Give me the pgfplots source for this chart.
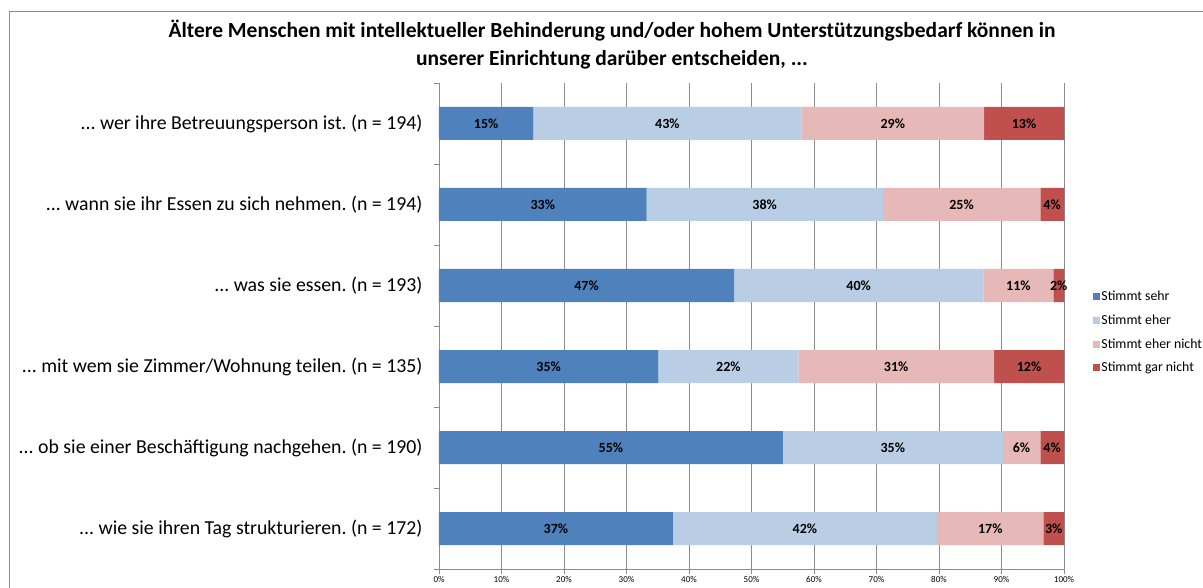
\documentclass[border=0pt]{standalone}
\usepackage{pgfplots}
\pgfplotsset{compat=1.18}
\usepackage{pgfplotstable}
\usepackage{fontspec}
\setmainfont{Carlito}
\frenchspacing
\newcommand\ddd{...}
\definecolor{cA}{HTML}{4F81BD}
\definecolor{cB}{HTML}{B9CDE5}
\definecolor{cC}{HTML}{E6B9B8}
\definecolor{cD}{HTML}{C0504D}
\definecolor{gridc}{HTML}{8C8C8C}
\pgfplotstableread{
y a b c d la lb lc ld
0 15.1 42.9 29.2 12.8 15 43 29 13
1 33.2 37.8 25.2 3.8 33 38 25 4
2 47.2 39.9 11.2 1.7 47 40 11 2
3 35.1 22.4 31.3 11.2 35 22 31 12
4 55.0 35.2 6.0 3.8 55 35 6 4
5 37.4 42.3 17.0 3.3 37 42 17 3
}\data
\pgfplotsset{
  base/.style={
    at={(439pt,19pt)}, anchor=south west,
    scale only axis, width=625pt, height=486pt,
    xmin=0, xmax=100, ymin=-0.5, ymax=5.5, y dir=reverse,
  },
  lab/.style={draw=none, nodes near coords={\pgfplotspointmeta\%}, point meta=explicit symbolic,
    every node near coord/.append style={anchor=center, font=\bfseries\fontsize{14}{16}\selectfont, text=black}},
}
\begin{document}
\frenchspacing
\begin{tikzpicture}[x=1pt,y=1pt]
\draw[gridc, line width=0.8pt] (9,-20) -- (9,577) -- (1250,577);
\node[font=\bfseries\fontsize{21.5}{28}\selectfont, align=center] at (612,543)
  {Ältere Menschen mit intellektueller Behinderung und/oder hohem Unterstützungsbedarf können in\\unserer Einrichtung darüber entscheiden, ...};
\begin{axis}[base,
  xbar stacked, bar width=33pt,
  axis x line*=bottom, axis y line*=left,
  axis line style={gridc, line width=0.8pt},
  tick align=outside, major tick length=5pt,
  tick style={gridc, line width=0.8pt},
  xmajorgrids, grid style={gridc, line width=0.8pt},
  xtick={0,10,...,100},
  xticklabel={\pgfmathprintnumber{\tick}\%},
  /pgf/number format/assume math mode=true,
  x tick label style={font=\fontsize{9}{10}\selectfont, yshift=1pt},
  ytick={-0.5,0.5,...,5.5}, yticklabels={},
  extra y ticks={0,1,2,3,4,5},
  extra y tick style={major tick length=0pt, tick style={draw=none}},
  extra y tick labels={{\ddd{} wer ihre Betreuungsperson ist. (n = 194)},
    {\ddd{} wann sie ihr Essen zu sich nehmen. (n = 194)},
    {\ddd{} was sie essen. (n = 193)},
    {\ddd{} mit wem sie Zimmer/Wohnung teilen. (n = 135)},
    {\ddd{} ob sie einer Beschäftigung nachgehen. (n = 190)},
    {\ddd{} wie sie ihren Tag strukturieren. (n = 172)}},
  y tick label style={font=\fontsize{19.8}{22}\selectfont, xshift=-13pt},
  legend style={at={(1.046,0.58)}, anchor=north west, draw=none, fill=none,
    font=\fontsize{13.8}{16}\selectfont, row sep=8.5pt, inner xsep=0pt,
    nodes={inner xsep=1.5pt}},
  legend cell align=left,
  legend image code/.code={\fill[#1] (0pt,-3.5pt) rectangle (7pt,3.5pt);},
]
\addplot[fill=cA, draw=none] table[x=a, y=y] \data;
\addplot[fill=cB, draw=none] table[x=b, y=y] \data;
\addplot[fill=cC, draw=none] table[x=c, y=y] \data;
\addplot[fill=cD, draw=none] table[x=d, y=y] \data;
\legend{Stimmt sehr, Stimmt eher, Stimmt eher nicht, Stimmt gar nicht}
\end{axis}
\begin{axis}[base, hide axis]
\addplot[lab] table[x expr=\thisrow{a}/2, y=y, meta=la] \data;
\addplot[lab] table[x expr=\thisrow{a}+\thisrow{b}/2, y=y, meta=lb] \data;
\addplot[lab] table[x expr=\thisrow{a}+\thisrow{b}+\thisrow{c}/2, y=y, meta=lc] \data;
\addplot[lab] table[x expr=\thisrow{a}+\thisrow{b}+\thisrow{c}+\thisrow{d}/2, y=y, meta=ld] \data;
\end{axis}
\pgfresetboundingbox
\path[use as bounding box] (0,0) rectangle (1203,588);
\end{tikzpicture}
\end{document}
